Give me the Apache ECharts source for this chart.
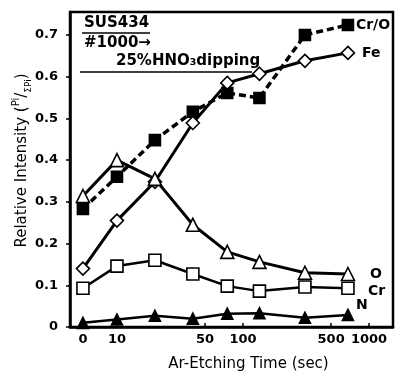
<!DOCTYPE html>
<html>
<head>
<meta charset="utf-8">
<script src="https://cdn.jsdelivr.net/npm/echarts@6/dist/echarts.min.js"></script>
<style>
  html, body { margin: 0; padding: 0; background: #fff; }
  #chart { width: 406px; height: 372px; }
</style>
</head>
<body>
<div id="chart"></div>
<script>
// etching time (sec); 0 is drawn left of the axis break
const times = [0, 10, 20, 40, 75, 135, 310, 680]
const zeroAt = 5.37
const xLabelValues = [0, 10, 50, 100, 500, 1000]

// relative intensity Pi / ΣPi
const crOverO = [0.283, 0.36, 0.448, 0.516, 0.561, 0.549, 0.70, 0.724]
const fe = [0.14, 0.255, 0.348, 0.489, 0.585, 0.607, 0.638, 0.657]
const oxygen = [0.314, 0.40, 0.355, 0.245, 0.18, 0.156, 0.13, 0.127]
const cr = [0.093, 0.146, 0.16, 0.127, 0.098, 0.086, 0.096, 0.093]
const nitrogen = [0.01, 0.018, 0.027, 0.02, 0.032, 0.033, 0.022, 0.029]

const xPos = t => (t === 0 ? zeroAt : t)
const pairs = vals => times.map((t, i) => [xPos(t), vals[i]])

const chart = echarts.init(document.getElementById('chart'))
const font = 'DejaVu Sans'

function lineSeries (name, vals, opts) {
    return {
        name: name,
        type: 'line',
        data: pairs(vals),
        symbol: opts.symbol,
        symbolSize: opts.size,
        lineStyle: { color: '#000', width: opts.width, type: opts.dash || 'solid' },
        itemStyle: { color: opts.fill, borderColor: '#000', borderWidth: 1.6 },
        z: opts.z || 2,
        endLabel: {
            show: true,
            formatter: name,
            color: '#000',
            fontFamily: font,
            fontSize: 14,
            fontWeight: 'bold',
            offset: opts.labelOffset
        }
    }
}

const option = {
    animation: false,
    backgroundColor: '#fff',
    grid: {
        left: 70, top: 12, right: 13, bottom: 45,
        containLabel: false,
        outerBoundsMode: 'none',
        show: true, borderColor: '#000', borderWidth: 2.5, backgroundColor: 'transparent'
    },
    xAxis: {
        type: 'log',
        logBase: 10,
        min: 4.24,
        max: 1549,
        axisLine: { lineStyle: { color: '#000', width: 2.5 } },
        splitLine: { show: false },
        minorTick: { show: false },
        axisTick: {
            inside: true, length: 4,
            customValues: xLabelValues.slice(1),
            lineStyle: { color: '#000', width: 1.5 }
        },
        axisLabel: {
            customValues: xLabelValues.map(xPos),
            formatter: v => (v < 9 ? '0' : String(Math.round(v))),
            color: '#000', fontFamily: font, fontSize: 13, fontWeight: 'bold', margin: 6
        },
        name: 'Ar-Etching Time (sec)',
        nameLocation: 'middle',
        nameGap: 30,
        nameMoveOverlap: false,
        nameTextStyle: {
            color: '#000', fontFamily: font, fontSize: 15, padding: [0, 0, 0, 34]
        }
    },
    yAxis: {
        type: 'value',
        min: 0,
        max: 0.755,
        interval: 0.1,
        axisLine: { lineStyle: { color: '#000', width: 2.5 } },
        splitLine: { show: false },
        axisTick: { show: true, length: 4, lineStyle: { color: '#000', width: 1.5 } },
        axisLabel: {
            showMaxLabel: false,
            color: '#000', fontFamily: font, fontSize: 13, fontWeight: 'bold', margin: 12
        },
        name: '{t|Relative Intensity (}{sup|Pi}{t|/}{sub|ΣPi}{t|)}',
        nameLocation: 'middle',
        nameRotate: 90,
        nameGap: 37,
        nameMoveOverlap: false,
        nameTextStyle: {
            padding: [0, 0, 0, 18],
            rich: {
                t: { color: '#000', fontFamily: font, fontSize: 15, lineHeight: 22 },
                sup: { color: '#000', fontFamily: font, fontSize: 10, lineHeight: 22, verticalAlign: 'top', padding: [0, 0, 8, 0] },
                sub: { color: '#000', fontFamily: font, fontSize: 9, lineHeight: 22, verticalAlign: 'bottom', padding: [6, 0, 0, 0] }
            }
        }
    },
    graphic: [
        { type: 'text', left: 84, top: 16, style: { text: 'SUS434', font: 'bold 15px DejaVu Sans', fill: '#000' } },
        { type: 'line', shape: { x1: 82, y1: 33, x2: 150, y2: 33 }, style: { stroke: '#000', lineWidth: 1.5 } },
        { type: 'text', left: 84, top: 36, style: { text: '#1000→', font: 'bold 15px DejaVu Sans', fill: '#000' } },
        { type: 'text', left: 116, top: 54, style: { text: '25%HNO₃dipping', font: 'bold 15px DejaVu Sans', fill: '#000' } },
        { type: 'line', shape: { x1: 80, y1: 72, x2: 252, y2: 72 }, style: { stroke: '#000', lineWidth: 1.5 } }
    ],
    series: [
        lineSeries('Cr/O', crOverO, { symbol: 'rect', size: 11, width: 3.5, fill: '#000', dash: [7, 4], labelOffset: [0, 0], z: 3 }),
        lineSeries('Fe', fe, { symbol: 'diamond', size: 13, width: 3, fill: '#fff', labelOffset: [6, 0], z: 4 }),
        lineSeries('O', oxygen, { symbol: 'triangle', size: 13, width: 3, fill: '#fff', labelOffset: [14, 0], z: 4 }),
        lineSeries('Cr', cr, { symbol: 'rect', size: 12, width: 2.5, fill: '#fff', labelOffset: [12, 3] }),
        lineSeries('N', nitrogen, { symbol: 'triangle', size: 11, width: 2.5, fill: '#000', labelOffset: [0, -10] })
    ]
}

chart.setOption(option)
</script>
</body>
</html>
